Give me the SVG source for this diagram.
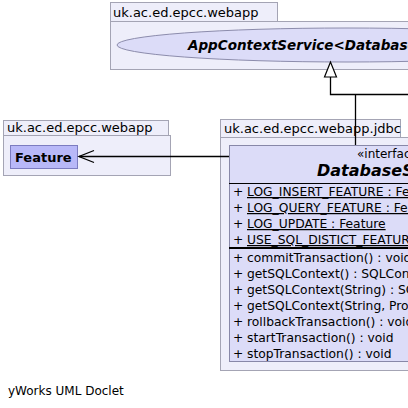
<svg xmlns="http://www.w3.org/2000/svg" width="408" height="408" viewBox="0 0 408 408">
<style>
.pkg{fill:#eeeefa;stroke:#a4a4b4;stroke-width:1}
.cls{fill:#dcdcf8;stroke:#8888a8;stroke-width:1}
.t{font-family:"DejaVu Sans",sans-serif;fill:#000}
.pl{font-size:13px}
.m{font-size:12.3px}
.u{text-decoration:underline}
.conn{fill:none;stroke:#000;stroke-width:1.3}
</style>
<rect width="408" height="408" fill="#fff"/>
<g id="pkg-webapp-top">
<rect class="pkg" x="110.5" y="2.5" width="167" height="19"/>
<rect class="pkg" x="110.5" y="21.5" width="310" height="48"/>
<text class="t pl" x="113" y="17">uk.ac.ed.epcc.webapp</text>
</g>
<g id="AppContextService">
<ellipse cx="347" cy="45" rx="230" ry="17" fill="#dcdcf8" stroke="#8c8cac"/>
<text class="t" x="188" y="50" font-size="13.5" font-weight="bold" font-style="italic">AppContextService&lt;DatabaseService&gt;</text>
</g>
<g id="pkg-webapp-left">
<rect class="pkg" x="3.5" y="120.5" width="165" height="15"/>
<rect class="pkg" x="3.5" y="135.5" width="167" height="40"/>
<text class="t pl" x="7" y="132">uk.ac.ed.epcc.webapp</text>
</g>
<g id="Feature">
<rect x="10.5" y="145.5" width="67" height="23" fill="#b8b8f8" stroke="#7c7cc0"/>
<text class="t" x="15" y="161.5" font-size="13" font-weight="bold">Feature</text>
</g>
<g id="pkg-jdbc">
<rect class="pkg" x="220.5" y="119.5" width="180" height="18"/>
<rect class="pkg" x="220.5" y="137.5" width="200" height="233"/>
<text class="t pl" x="224" y="133">uk.ac.ed.epcc.webapp.jdbc</text>
</g>
<g id="DatabaseService">
<rect class="cls" x="229.5" y="145.5" width="190" height="216"/>
<text class="t" x="357" y="158" font-size="12">«interface»</text>
<text class="t" x="317" y="176" font-size="16" font-weight="bold" font-style="italic">DatabaseService</text>
<line x1="229" y1="183.5" x2="420" y2="183.5" stroke="#000" stroke-width="1"/>
<g class="t m">
<text x="233" y="196">+</text><text class="u" x="247" y="196">LOG_INSERT_FEATURE : Feature</text>
<text x="233" y="212">+</text><text class="u" x="247" y="212">LOG_QUERY_FEATURE : Feature</text>
<text x="233" y="228">+</text><text class="u" x="247" y="228">LOG_UPDATE : Feature</text>
<text x="233" y="244">+</text><text class="u" x="247" y="244">USE_SQL_DISTICT_FEATURE : Feature</text>
</g>
<line x1="229" y1="248" x2="420" y2="248" stroke="#000" stroke-width="2"/>
<g class="t m">
<text x="233" y="262">+</text><text x="247" y="262">commitTransaction() : void</text>
<text x="233" y="278">+</text><text x="247" y="278">getSQLContext() : SQLContext</text>
<text x="233" y="294">+</text><text x="247" y="294">getSQLContext(String) : SQLContext</text>
<text x="233" y="310">+</text><text x="247" y="310">getSQLContext(String, Properties) : SQLContext</text>
<text x="233" y="326">+</text><text x="247" y="326">rollbackTransaction() : void</text>
<text x="233" y="342">+</text><text x="247" y="342">startTransaction() : void</text>
<text x="233" y="358">+</text><text x="247" y="358">stopTransaction() : void</text>
</g>
</g>
<g id="connectors">
<path class="conn" d="M330.5,77 V94.5 H410 M355.5,94.5 V145"/>
<polygon points="330.5,62 324.5,77 336.5,77" fill="#fff" stroke="#000" stroke-width="1.2"/>
<path class="conn" d="M229,156.5 H79"/>
<polyline class="conn" points="94,150.5 79,156.5 94,162.5"/>
</g>
<text class="t" x="8" y="395" font-size="12" fill="#333">yWorks UML Doclet</text>
</svg>
